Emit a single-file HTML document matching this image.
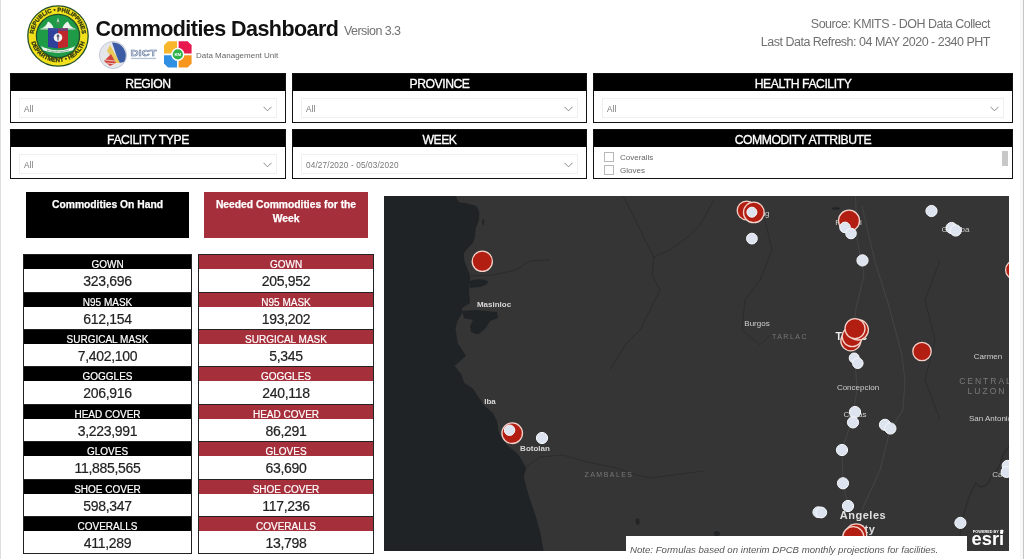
<!DOCTYPE html>
<html><head><meta charset="utf-8">
<style>
*{box-sizing:border-box;margin:0;padding:0}
html,body{width:1024px;height:559px;overflow:hidden;background:#fff;font-family:"Liberation Sans",sans-serif;}
.abs{position:absolute}
#stripeL{left:0;top:0;width:1px;height:559px;background:#dedede}
#stripeR{left:1020px;top:0;width:4px;height:559px;background:#f8f8f8;border-right:1.5px solid #c6c6c6}
.fbox{position:absolute;border:1px solid #111;background:#fff}
.fbox .hd{position:absolute;left:0;top:0;right:0;height:17px;background:#000;color:#fff;text-align:center;font-size:12.2px;line-height:17px;padding-top:2px;letter-spacing:-0.45px;-webkit-text-stroke:0.3px #fff}
.dd{position:absolute;left:8px;right:8px;top:24px;height:19.5px;border:1px solid #efefef;font-size:8.2px;letter-spacing:0.15px;color:#777;line-height:21px;padding-left:4px}
.dd svg{position:absolute;right:4px;top:7px}
.title{left:95.5px;top:17px;font-weight:bold;font-size:21.5px;color:#111;letter-spacing:-0.55px;white-space:nowrap}
.ver{left:344px;top:24px;font-size:12.5px;color:#707070;white-space:nowrap;letter-spacing:-0.55px}
.src{right:34px;text-align:right;font-size:12.5px;color:#707070;white-space:nowrap;letter-spacing:-0.5px}
.dmu{left:196px;top:51px;font-size:8px;color:#666;white-space:nowrap}
.big{position:absolute;color:#fff;font-weight:bold;-webkit-text-stroke:0.25px #fff;font-size:10.3px;text-align:center;line-height:14px;white-space:nowrap}
.row{position:absolute;height:38px;border:1px solid #222;background:#fff}
.row .l{height:14px;color:#fff;font-size:10px;text-align:center;line-height:19.4px;letter-spacing:0;-webkit-text-stroke:0.2px #fff;overflow:hidden}
.row .v{height:22px;text-align:center;font-size:14px;line-height:25.5px;color:#222;letter-spacing:-0.3px;-webkit-text-stroke:0.2px #222}
.blk .l{background:#000}
.red .l{background:#a62f3c}
#map{left:384px;top:196px;width:625px;height:363px;background:#343434;overflow:hidden}
</style></head><body>
<div id="stripeL" class="abs"></div><div id="stripeR" class="abs"></div>

<div class="abs title">Commodities Dashboard</div>
<div class="abs ver">Version 3.3</div>
<div class="abs src" style="top:17px">Source: KMITS - DOH Data Collect</div>
<div class="abs src" style="top:35px">Last Data Refresh: 04 MAY 2020 - 2340 PHT</div>

<svg class="abs" style="left:24px;top:2px" width="68" height="68" viewBox="-34 -34 68 68" font-family="'Liberation Sans',sans-serif">
 <defs><path id="arcT" d="M-24 3 A24.2 24.2 0 1 1 24 3"/><path id="arcB" d="M-28 -2 A28 28 0 1 0 28 -2"/></defs>
 <circle r="30.2" fill="#f1e01a" stroke="#23502a" stroke-width="1.3"/>
 <circle r="21.6" fill="#1f9b48" stroke="#23502a" stroke-width="1.3"/>
 <text font-size="5.9" font-weight="bold" fill="#2b3312" stroke="#2b3312" stroke-width="0.25" letter-spacing="0"><textPath href="#arcT" startOffset="50%" text-anchor="middle">REPUBLIC • PHILIPPINES</textPath></text>
 <text font-size="5.9" font-weight="bold" fill="#2b3312" stroke="#2b3312" stroke-width="0.25" letter-spacing="0.1"><textPath href="#arcB" startOffset="50%" text-anchor="middle">DEPARTMENT • HEALTH</textPath></text>
 <path d="M-17 -7.5 Q-12 -9 -10 -14.5 Q-6 -13 -4.5 -8 L-3 -7.5 Z" fill="#eef3ee"/>
 <path d="M17 -7.5 Q12 -9 10 -14.5 Q6 -13 4.5 -8 L3 -7.5 Z" fill="#eef3ee"/>
 <path d="M-17.5 -7.6 L17.5 -7.6 L17.5 -6.4 L-17.5 -6.4Z" fill="#cfe0d0"/>
 <path d="M-10 -7.8 L0 -7.8 L0 12.5 L-10 11 Z" fill="#2f3f9c"/>
 <path d="M0 -7.8 L10 -7.8 L10 11 L0 12.5 Z" fill="#c0272d"/>
 <path d="M-10 -7.8 L10 -7.8 L10 -5 L-10 -5 Z" fill="#3c4aa0" opacity="0.6"/>
 <circle cx="0" cy="1.5" r="4.3" fill="#f4f4f4"/>
 <path d="M-0.8 -1.5 L0.8 -1.5 L0.5 4.5 L-0.5 4.5Z M-2 0 Q0 -1.5 2 0 Q0 1 -2 0Z" fill="#4a4a6a"/>
 <path d="M-17 10 L-14 11.5 Q0 17 14 11.5 L17 10 L15 14.2 Q0 19.6 -15 14.2 Z" fill="#eef4ee"/>
 <path d="M-11 14 Q0 17.6 11 14" fill="none" stroke="#3a6a4a" stroke-width="0.9" stroke-dasharray="0.8 0.5"/>
 <path d="M0 -18.5 L1.4 -13.5 L-1.4 -13.5Z" fill="#cfe0d0"/>
 <circle cx="0" cy="-13" r="1.6" fill="#4a8a5a"/>
</svg>
<svg class="abs" style="left:98px;top:40px" width="30" height="30" viewBox="-15 -15 30 30">
 <circle r="13.6" fill="#e4e6ea" stroke="#b9bfd0" stroke-width="0.8"/>
 <path d="M-1 -12.5 A13 13 0 0 1 11 7 L6 8 Z" fill="#3b5ba5"/>
 <path d="M-3 -10 L7 8 L2 8 L-6 -4 Z" fill="#e8c95a"/>
 <path d="M-9 6 L-2 -1 L3 8 L-3 11 Z" fill="#d0463f"/>
 <path d="M-8 5 L2 6 M-6 8 L3 9" stroke="#f0d9d0" stroke-width="0.8"/>
</svg>
<svg class="abs" style="left:129px;top:47px" width="30" height="14" viewBox="0 0 30 14" font-family="'Liberation Sans',sans-serif">
 <text x="14.5" y="9" font-size="9.5" font-weight="bold" fill="#f2f4f8" stroke="#5a7299" stroke-width="0.55" text-anchor="middle" textLength="26" lengthAdjust="spacingAndGlyphs">DICT</text>
 <rect x="2" y="10.8" width="25" height="1.3" fill="#b4c2d8"/>
</svg>
<svg class="abs" style="left:163px;top:40px" width="30" height="29" viewBox="0 0 30 29" font-family="'Liberation Sans',sans-serif">
 <path d="M5 1.3 L14 1.3 L14 13.6 L1 13.6 L1 5.3 Z" fill="#f8b62b"/>
 <path d="M15.6 1.3 L24.6 1.3 L28.6 5.3 L28.6 13.6 L15.6 13.6 Z" fill="#e8184f"/>
 <path d="M1 15.2 L14 15.2 L14 27.6 L5 27.6 L1 23.6 Z" fill="#2f8fe2"/>
 <path d="M15.6 15.2 L28.6 15.2 L28.6 23.6 L24.6 27.6 L15.6 27.6 Z" fill="#f7951d"/>
 <circle cx="14.8" cy="14.4" r="6.6" fill="#fff"/>
 <circle cx="14.8" cy="14.4" r="5.1" fill="#2db34a"/>
 <text x="14.8" y="16" font-size="4.4" font-weight="bold" fill="#fff" text-anchor="middle">KM</text>
</svg>
<div class="abs dmu">Data Management Unit</div>

<div class="fbox" style="left:10px;top:73px;width:276px;height:50px"><div class="hd">REGION</div><div class="dd">All<svg width="9" height="6" viewBox="0 0 9 6"><path d="M0.5 0.8L4.5 4.8L8.5 0.8" fill="none" stroke="#888" stroke-width="1"/></svg></div></div>
<div class="fbox" style="left:292px;top:73px;width:295px;height:50px"><div class="hd">PROVINCE</div><div class="dd">All<svg width="9" height="6" viewBox="0 0 9 6"><path d="M0.5 0.8L4.5 4.8L8.5 0.8" fill="none" stroke="#888" stroke-width="1"/></svg></div></div>
<div class="fbox" style="left:593px;top:73px;width:420px;height:50px"><div class="hd">HEALTH FACILITY</div><div class="dd">All<svg width="9" height="6" viewBox="0 0 9 6"><path d="M0.5 0.8L4.5 4.8L8.5 0.8" fill="none" stroke="#888" stroke-width="1"/></svg></div></div>
<div class="fbox" style="left:10px;top:129px;width:276px;height:50px"><div class="hd">FACILITY TYPE</div><div class="dd">All<svg width="9" height="6" viewBox="0 0 9 6"><path d="M0.5 0.8L4.5 4.8L8.5 0.8" fill="none" stroke="#888" stroke-width="1"/></svg></div></div>
<div class="fbox" style="left:292px;top:129px;width:295px;height:50px"><div class="hd">WEEK</div><div class="dd">04/27/2020 - 05/03/2020<svg width="9" height="6" viewBox="0 0 9 6"><path d="M0.5 0.8L4.5 4.8L8.5 0.8" fill="none" stroke="#888" stroke-width="1"/></svg></div></div>
<div class="fbox" style="left:593px;top:129px;width:420px;height:50px"><div class="hd">COMMODITY ATTRIBUTE</div>
  <div class="abs" style="left:10px;top:22px;width:10px;height:10px;border:1px solid #b8b8b8"></div>
  <div class="abs" style="left:10px;top:35px;width:10px;height:10px;border:1px solid #b8b8b8"></div>
  <div class="abs" style="left:26px;top:23px;font-size:8px;color:#666;line-height:9px">Coveralls</div>
  <div class="abs" style="left:26px;top:36px;font-size:8px;color:#666;line-height:9px">Gloves</div>
  <div class="abs" style="left:408px;top:21px;width:6px;height:15px;background:#c8c8c8"></div>
</div>

<div class="big" style="left:26px;top:192px;width:163px;height:46px;background:#000;padding-top:6px">Commodities On Hand</div>
<div class="big" style="left:204px;top:192px;width:164px;height:46px;background:#a62f3c;padding-top:6px">Needed Commodities for the<br>Week</div>

<div id="rows">
<div class="row blk" style="left:23px;top:254px;width:169px;height:39px"><div class="l">GOWN</div><div class="v">323,696</div></div>
<div class="row red" style="left:198px;top:254px;width:176px;height:39px"><div class="l">GOWN</div><div class="v">205,952</div></div>
<div class="row blk" style="left:23px;top:292px;width:169px;height:38px"><div class="l">N95 MASK</div><div class="v">612,154</div></div>
<div class="row red" style="left:198px;top:292px;width:176px;height:38px"><div class="l">N95 MASK</div><div class="v">193,202</div></div>
<div class="row blk" style="left:23px;top:329px;width:169px;height:38px"><div class="l">SURGICAL MASK</div><div class="v">7,402,100</div></div>
<div class="row red" style="left:198px;top:329px;width:176px;height:38px"><div class="l">SURGICAL MASK</div><div class="v">5,345</div></div>
<div class="row blk" style="left:23px;top:366px;width:169px;height:39px"><div class="l">GOGGLES</div><div class="v">206,916</div></div>
<div class="row red" style="left:198px;top:366px;width:176px;height:39px"><div class="l">GOGGLES</div><div class="v">240,118</div></div>
<div class="row blk" style="left:23px;top:404px;width:169px;height:38px"><div class="l">HEAD COVER</div><div class="v">3,223,991</div></div>
<div class="row red" style="left:198px;top:404px;width:176px;height:38px"><div class="l">HEAD COVER</div><div class="v">86,291</div></div>
<div class="row blk" style="left:23px;top:441px;width:169px;height:39px"><div class="l">GLOVES</div><div class="v">11,885,565</div></div>
<div class="row red" style="left:198px;top:441px;width:176px;height:39px"><div class="l">GLOVES</div><div class="v">63,690</div></div>
<div class="row blk" style="left:23px;top:479px;width:169px;height:38px"><div class="l">SHOE COVER</div><div class="v">598,347</div></div>
<div class="row red" style="left:198px;top:479px;width:176px;height:38px"><div class="l">SHOE COVER</div><div class="v">117,236</div></div>
<div class="row blk" style="left:23px;top:516px;width:169px;height:38px"><div class="l">COVERALLS</div><div class="v">411,289</div></div>
<div class="row red" style="left:198px;top:516px;width:176px;height:38px"><div class="l">COVERALLS</div><div class="v">13,798</div></div>
</div>

<svg class="abs" style="left:384px;top:196px" width="625" height="355" viewBox="384 196 625 355" font-family="'Liberation Sans',sans-serif">
<rect x="384" y="196" width="625" height="355" fill="#353535"/>
<path d="M384 196 L455.7 196 L458.8 202.3 L467.5 203.5 L476.3 206 L479.4 212.3 L478.8 221 L475.7 228.5 L475 237.3 L472.5 243.5 L467.5 248.6 L463.8 253.6 L464.4 261 L466.7 267 L470 275.5 L470 282 L469 290.5 L470 303 L462 308 L462 313 L458 320 L455.5 328 L457.7 343 L466 356 L454.5 366 L461.4 374.3 L464.3 382.9 L472.9 388.6 L478.6 397.2 L484.3 405.8 L493 413 L497.2 421.5 L498.6 431.5 L503 440 L508 446 L518 454 L526.4 468 L523.6 476.7 L529 496.6 L535 513.7 L540.6 533.6 L543.5 551 L384 551 Z" fill="#1f2326"/>
<path d="M462 311 L476 310 L497 312 L498 318 L490 321 L485 329 L478 334.5 L471 332 L470 326 L473 320 L464 318 Z" fill="#1f2326"/>
<path d="M482.5 219 L484 219.5 L483.8 224.5 L482.3 225 Z" fill="#1f2326"/>
<ellipse cx="637.6" cy="521.5" rx="2" ry="3.2" fill="#222426"/><ellipse cx="716.8" cy="533.5" rx="3" ry="2.6" fill="#222426"/><ellipse cx="836" cy="208.5" rx="4" ry="1.2" fill="#222426"/>
<path d="M470 281 Q480 277.5 488.5 281.5 Q486 287 474 287.5 L470 288 Z" fill="#1f2326"/>
<g fill="none" stroke="#434343" stroke-width="1.1" stroke-linejoin="round">
<path d="M855.6 196 L857 239 L864 275 L856 308 L854 327 L855 360 L857 390 L852 420 L842 450 L843 483 L848 506 L853 540"/>
<path d="M862 206 L875 262 L888.5 304.5 L901.7 354 L905 380 L903 410 L890 430 L880 470 L862 510"/>
</g>
<g fill="none" stroke="#2b2c2e" stroke-width="1" stroke-linejoin="round">
<path d="M470 276 L492 275 L516 270 L530 261 L550 260"/>
<path d="M525 467 L540 457 L563 455 L583 461 L617 468 L637 475 L650 478 L704 471"/>
<path d="M623 196 L633 215 L645 240 L654 257 L670 250 L690 235 L700 225 L714 200"/><path d="M654 257 L652 275 L660 290 L650 310 L640 330 L625 345 L610 370"/>
<path d="M765 220 L772 250 L760 280 L745 300 L742 330 L760 345 L770 335"/>
<path d="M940 260 L925 300 L935 340 L925 380 L940 420"/><path d="M1009 446 L1003 455 L1001 462 L997 470 L992 474 L990 480 L985 486 L980 487 L976 483 L972 490 L968 500 L962 520 L958 551" stroke-width="1.3"/>
</g>
<text x="494" y="307" font-size="8" fill="#d8d8d8" letter-spacing="0" font-weight="bold" text-anchor="middle">Masinloc</text>
<text x="757" y="326" font-size="8" fill="#cfcfcf" letter-spacing="0" font-weight="normal" text-anchor="middle">Burgos</text>
<text x="790" y="339" font-size="7" fill="#777" letter-spacing="1.5" font-weight="normal" text-anchor="middle">TARLAC</text>
<text x="858" y="390" font-size="8" fill="#cfcfcf" letter-spacing="0" font-weight="normal" text-anchor="middle">Concepcion</text>
<text x="490" y="404" font-size="8" fill="#d8d8d8" letter-spacing="0" font-weight="bold" text-anchor="middle">Iba</text>
<text x="535" y="451" font-size="8" fill="#d8d8d8" letter-spacing="0" font-weight="bold" text-anchor="middle">Botolan</text>
<text x="609" y="477" font-size="7" fill="#777" letter-spacing="1.45" font-weight="normal" text-anchor="middle">ZAMBALES</text>
<text x="988" y="359" font-size="8" fill="#cfcfcf" letter-spacing="0" font-weight="normal" text-anchor="middle">Carmen</text>
<text x="986" y="384" font-size="8.5" fill="#7a7a7a" letter-spacing="2" font-weight="normal" text-anchor="middle">CENTRAL</text>
<text x="987" y="394" font-size="8.5" fill="#7a7a7a" letter-spacing="2" font-weight="normal" text-anchor="middle">LUZON</text>
<text x="990.5" y="421" font-size="8" fill="#cfcfcf" letter-spacing="0" font-weight="normal" text-anchor="middle">San Antonio</text>
<text x="863" y="519" font-size="11" fill="#e0e0e0" letter-spacing="0.5" font-weight="bold" text-anchor="middle">Angeles</text>
<text x="864" y="533" font-size="11" fill="#e0e0e0" letter-spacing="0.5" font-weight="bold" text-anchor="middle">City</text>
<text x="855" y="417" font-size="8" fill="#cfcfcf" letter-spacing="0" font-weight="normal" text-anchor="middle">Capas</text>
<text x="955.5" y="232" font-size="8" fill="#cfcfcf" letter-spacing="0" font-weight="normal" text-anchor="middle">Guimba</text>
<text x="851.5" y="340" font-size="10.5" fill="#f0f0f0" letter-spacing="0.3" font-weight="bold" text-anchor="middle">Tarlac</text>
<text x="754" y="216" font-size="8" fill="#cfcfcf" letter-spacing="0" font-weight="normal" text-anchor="middle">Camiling</text>
<text x="848.5" y="225" font-size="8" fill="#cfcfcf" letter-spacing="0" font-weight="normal" text-anchor="middle">Paniqui</text>
<text x="1014" y="477" font-size="8" fill="#cfcfcf" letter-spacing="0" font-weight="normal" text-anchor="middle">Cabanatuan</text>
<circle cx="482.3" cy="261.3" r="10.1" fill="#b21f12" stroke="#f4d2ca" stroke-width="1.3"/>
<circle cx="746.6" cy="210.5" r="9.4" fill="#b21f12" stroke="#f4d2ca" stroke-width="1.3"/>
<circle cx="753.8" cy="212.4" r="10.3" fill="#b21f12" stroke="#f4d2ca" stroke-width="1.3"/>
<circle cx="849" cy="220.7" r="10.5" fill="#b21f12" stroke="#f4d2ca" stroke-width="1.3"/>
<circle cx="850.8" cy="340.8" r="10" fill="#b21f12" stroke="#f4d2ca" stroke-width="1.3"/>
<circle cx="852.2" cy="336.6" r="10" fill="#b21f12" stroke="#f4d2ca" stroke-width="1.3"/>
<circle cx="858.2" cy="329.8" r="10.2" fill="#b21f12" stroke="#f4d2ca" stroke-width="1.3"/>
<circle cx="855" cy="328.6" r="10" fill="#b21f12" stroke="#f4d2ca" stroke-width="1.3"/>
<circle cx="922" cy="351.5" r="9.2" fill="#b21f12" stroke="#f4d2ca" stroke-width="1.3"/>
<circle cx="512.2" cy="433.2" r="10.3" fill="#b21f12" stroke="#f4d2ca" stroke-width="1.3"/>
<circle cx="1015" cy="269.9" r="9.4" fill="#b21f12" stroke="#f4d2ca" stroke-width="1.3"/>
<circle cx="856.2" cy="534.4" r="10.6" fill="#b21f12" stroke="#f4d2ca" stroke-width="1.3"/>
<circle cx="853.3" cy="537.2" r="10.6" fill="#b21f12" stroke="#f4d2ca" stroke-width="1.3"/>
<circle cx="751.9" cy="212.2" r="5" fill="#dde4ef" stroke="#f7f9fc" stroke-width="1"/>
<circle cx="751.9" cy="238.6" r="5.4" fill="#dde4ef" stroke="#f7f9fc" stroke-width="1"/>
<circle cx="845" cy="227.4" r="5.3" fill="#dde4ef" stroke="#f7f9fc" stroke-width="1"/>
<circle cx="851" cy="233.5" r="5.3" fill="#dde4ef" stroke="#f7f9fc" stroke-width="1"/>
<circle cx="862.5" cy="260.4" r="5.6" fill="#dde4ef" stroke="#f7f9fc" stroke-width="1"/>
<circle cx="931.5" cy="211" r="5.6" fill="#dde4ef" stroke="#f7f9fc" stroke-width="1"/>
<circle cx="951.6" cy="228" r="5.6" fill="#dde4ef" stroke="#f7f9fc" stroke-width="1"/>
<circle cx="955.7" cy="230.5" r="5.6" fill="#dde4ef" stroke="#f7f9fc" stroke-width="1"/>
<circle cx="854.2" cy="358" r="5" fill="#dde4ef" stroke="#f7f9fc" stroke-width="1"/>
<circle cx="857.8" cy="363.2" r="5.3" fill="#dde4ef" stroke="#f7f9fc" stroke-width="1"/>
<circle cx="855" cy="412" r="5.6" fill="#dde4ef" stroke="#f7f9fc" stroke-width="1"/>
<circle cx="853" cy="422.4" r="5.6" fill="#dde4ef" stroke="#f7f9fc" stroke-width="1"/>
<circle cx="885" cy="424.8" r="5.6" fill="#dde4ef" stroke="#f7f9fc" stroke-width="1"/>
<circle cx="890.4" cy="428.5" r="5.6" fill="#dde4ef" stroke="#f7f9fc" stroke-width="1"/>
<circle cx="842" cy="450" r="5.6" fill="#dde4ef" stroke="#f7f9fc" stroke-width="1"/>
<circle cx="843" cy="483.3" r="5.6" fill="#dde4ef" stroke="#f7f9fc" stroke-width="1"/>
<circle cx="848" cy="506" r="5.6" fill="#dde4ef" stroke="#f7f9fc" stroke-width="1"/>
<circle cx="818.3" cy="512.2" r="5.4" fill="#dde4ef" stroke="#f7f9fc" stroke-width="1"/>
<circle cx="821.3" cy="512.5" r="5.4" fill="#dde4ef" stroke="#f7f9fc" stroke-width="1"/>
<circle cx="960.4" cy="522.9" r="5.6" fill="#dde4ef" stroke="#f7f9fc" stroke-width="1"/>
<circle cx="1007.6" cy="465.8" r="5.5" fill="#dde4ef" stroke="#f7f9fc" stroke-width="1"/>
<circle cx="1006.6" cy="472" r="5.5" fill="#dde4ef" stroke="#f7f9fc" stroke-width="1"/>
<circle cx="509.6" cy="430.2" r="5.2" fill="#dde4ef" stroke="#f7f9fc" stroke-width="1"/>
<circle cx="542" cy="438" r="5.6" fill="#dde4ef" stroke="#f7f9fc" stroke-width="1"/>
<text x="971.6" y="545.4" font-size="19" font-weight="bold" fill="#fff" textLength="32.6" lengthAdjust="spacingAndGlyphs">esri</text>
<text x="972.8" y="532.5" font-size="3.6" font-weight="bold" fill="#fff" textLength="26" lengthAdjust="spacingAndGlyphs">POWERED BY</text>
<rect x="1000.2" y="529.7" width="3.1" height="3.2" rx="0.6" fill="#fff"/>
</svg>
<div class="abs" style="left:626px;top:536px;width:341px;height:23px;background:#fff;overflow:hidden"><div class="abs" id="note" style="left:4px;top:6.5px;font-size:9.65px;font-style:italic;color:#555;white-space:nowrap;line-height:14px;letter-spacing:0px">Note: Formulas based on interim DPCB monthly projections for facilities.</div></div>
</body></html>
